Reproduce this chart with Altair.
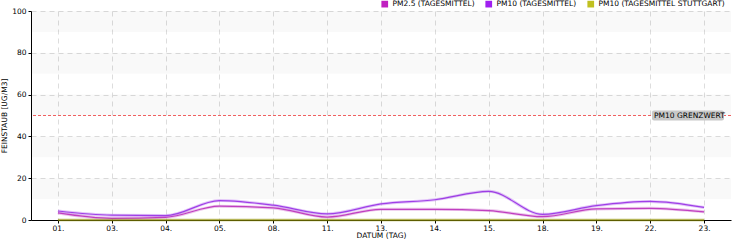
import altair as alt
import pandas as pd

days = ["01.", "03.", "04.", "05.", "08.", "11.", "13.", "14.", "15.", "18.", "19.", "22.", "23."]
pm25 = [3.4, 0.8, 1.3, 6.6, 5.8, 1.4, 5.1, 5.1, 4.5, 1.6, 5.3, 5.6, 3.9]
pm10 = [4.3, 2.3, 2.1, 9.3, 7.1, 2.9, 7.7, 9.7, 13.7, 2.7, 6.9, 8.9, 6.0]
stuttgart = [0, 0, 0, 0, 0, 0, 0, 0, 0, 0, 0, 0, 0]
series_names = ["PM2.5 (TAGESMITTEL)", "PM10 (TAGESMITTEL)", "PM10 (TAGESMITTEL STUTTGART)"]
series_colors = ["#c020c0", "#a020f0", "#c0c020"]
line_colors = ["#c040c0", "#a040e8", "#909000"]
y_ticks = [0, 10, 20, 30, 40, 50, 60, 70, 80, 90, 100]
band_lo = [10, 30, 50, 70, 90]
band_hi = [20, 40, 60, 80, 100]
limit_value = [50]
limit_label = ["PM10 GRENZWERT"]

FONT = "DejaVu Sans"
W, H = 700, 209

rows = []
for name, vals in zip(series_names, [pm25, pm10, stuttgart]):
    for d, v in zip(days, vals):
        rows.append({"Tag": d, "Serie": name, "Wert": v})
df = pd.DataFrame(rows)
bands = pd.DataFrame({"lo": band_lo, "hi": band_hi})
limit = pd.DataFrame({"v": limit_value, "label": limit_label})

yscale = alt.Scale(domain=[0, 100], nice=False)
xscale = alt.Scale(domain=days, type="point", padding=0.5)
yaxis = alt.Axis(title="FEINSTAUB [UG/M3]", values=y_ticks, tickCount=10, labelOverlap=False)
xaxis = alt.Axis(title="DATUM (TAG)", labelAngle=0, grid=True)

lines = alt.Chart(df).mark_line(interpolate="monotone", strokeWidth=1.2).encode(
    x=alt.X("Tag:N", scale=xscale, sort=days, axis=xaxis),
    y=alt.Y("Wert:Q", scale=yscale, axis=yaxis),
    color=alt.Color("Serie:N",
                    scale=alt.Scale(domain=series_names, range=line_colors),
                    sort=series_names, legend=None),
    detail="Serie:N",
)

band_layer = alt.Chart(bands).mark_rect(fill="#000000", fillOpacity=0.025).encode(
    y=alt.Y("lo:Q", scale=yscale, axis=yaxis),
    y2="hi:Q",
    x=alt.value(0),
    x2=alt.value(W),
)

halo = alt.Chart(df).mark_line(interpolate="monotone", strokeWidth=3, opacity=0.3).encode(
    x=alt.X("Tag:N", scale=xscale, sort=days, axis=xaxis),
    y=alt.Y("Wert:Q", scale=yscale, axis=yaxis),
    color=alt.Color("Serie:N", scale=alt.Scale(domain=series_names, range=line_colors), legend=None),
    detail="Serie:N",
)

legend_layer = alt.Chart(df).mark_point(opacity=0).encode(
    x=alt.X("Tag:N", scale=xscale, sort=days, axis=xaxis),
    y=alt.Y("Wert:Q", scale=yscale, axis=yaxis),
    fill=alt.Fill("Serie:N",
                  scale=alt.Scale(domain=series_names, range=series_colors),
                  sort=series_names,
                  legend=alt.Legend(title=None, orient="none", direction="horizontal",
                                    legendX=350, legendY=-11, symbolType="square",
                                    symbolSize=45, labelFont=FONT, labelFontSize=7.5,
                                    columnPadding=10, symbolStrokeWidth=0,
                                    symbolOpacity=1, labelColor="#000")),
)

limit_rule = alt.Chart(limit).mark_rule(stroke="#f06060", strokeDash=[3, 2], strokeWidth=1).encode(
    y=alt.Y("v:Q", scale=yscale, axis=yaxis),
)

label_box = alt.Chart(limit).mark_rect(color="#c8c8c8", cornerRadius=2, height=10).encode(
    y=alt.Y("v:Q", scale=yscale, axis=yaxis),
    x=alt.value(621),
    x2=alt.value(693),
)

label_text = alt.Chart(limit).mark_text(align="left", baseline="middle", font=FONT,
                                        fontSize=7.5, color="#000", dx=2).encode(
    y=alt.Y("v:Q", scale=yscale, axis=yaxis),
    x=alt.value(621),
    text="label:N",
)

chart = alt.layer(lines, band_layer, halo, legend_layer, limit_rule, label_box, label_text).resolve_scale(
    color="independent"
).properties(
    width=W, height=H,
    autosize=alt.AutoSizeParams(type="none"),
    padding={"left": 31, "top": 11, "right": 9, "bottom": 20},
).configure_view(stroke=None).configure_axis(
    labelFont=FONT, labelFontSize=7.5, labelColor="#000",
    titleFont=FONT, titleFontSize=7.5, titleFontWeight="normal", titleColor="#000",
    domainColor="#000", tickColor="#000", tickSize=3,
    gridColor="#dddddd", gridDash=[5, 4], gridWidth=1,
).configure_axisY(
    titlePadding=3, labelPadding=2, labelOverlap=False,
).configure_axisX(
    titlePadding=0, labelPadding=1,
)

chart.save("out.html", embed_options={"renderer": "svg", "actions": False})
